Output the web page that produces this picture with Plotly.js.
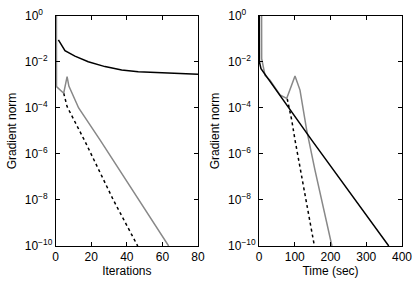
<!DOCTYPE html>
<html>
<head>
<meta charset="utf-8">
<script src="https://cdn.plot.ly/plotly-3.0.1.min.js"></script>
<style>html,body{margin:0;padding:0;background:#fff;}#chart{width:417px;height:281px;}</style>
</head>
<body>
<div id="chart"></div>
<script>
// Left panel: gradient norm vs iterations
const iterBlackX = [1.5, 5.2, 10.8, 18.3, 27.7, 37.1, 46.4, 55.8, 65.2, 80];
const iterBlackY = [0.091, 0.031, 0.018, 0.0102, 0.0063, 0.0045, 0.0038, 0.00355, 0.0033, 0.0029];
const iterGrayX = [0.4, 0.45, 4.5, 6.4, 7.4, 12.9, 24.9, 63.5];
const iterGrayY = [3, 8.5e-4, 4.4e-4, 2.3e-3, 9e-4, 1e-4, 4.1e-6, 1e-10];
const iterDashX = [4.5, 6.4, 16.5, 32.4, 46.1];
const iterDashY = [4.4e-4, 1.15e-4, 3.5e-6, 1e-8, 1e-10];

// Right panel: gradient norm vs time (sec)
const timeBlackX = [0.9, 1.2, 5.6, 12, 58.7, 147, 363];
const timeBlackY = [3, 0.01, 5.1e-3, 3.7e-3, 3.7e-4, 4.1e-6, 1e-10];
const timeGrayX = [7.2, 7.5, 16.8, 30.8, 58.7, 77.5, 100.7, 114.7, 133.4, 156.6, 204];
const timeGrayY = [3, 0.0138, 2.6e-3, 1.6e-3, 3.7e-4, 2.6e-4, 2.45e-3, 6e-4, 1.1e-5, 2e-7, 1e-10];
const timeDashX = [79, 91.5, 100.7, 114.7, 155];
const timeDashY = [2.5e-4, 3e-5, 4.1e-6, 2.8e-7, 1e-10];

// Tick labels (figure spaces keep the "10" bases aligned, as in the reference)
const yTickVals = [1, 1e-2, 1e-4, 1e-6, 1e-8, 1e-10];
const yTickText = ['10<sup>0\u2007\u2007</sup>', '10<sup>\u22122\u2007</sup>', '10<sup>\u22124\u2007</sup>', '10<sup>\u22126\u2007</sup>', '10<sup>\u22128\u2007</sup>', '10<sup>\u221210</sup>'];
const iterTickVals = [0, 20, 40, 60, 80];
const timeTickVals = [0, 100, 200, 300, 400];

const FONT = 'Liberation Sans, Arial, Helvetica, sans-serif';
const gray = '#888888';

function line(x, y, color, dash, xa, ya) {
  return {x: x, y: y, xaxis: xa, yaxis: ya, type: 'scatter', mode: 'lines',
    line: {color: color, width: 1.5, dash: dash}, hoverinfo: 'skip', showlegend: false};
}

const data = [
  line(iterDashX, iterDashY, '#000', '3px,3px', 'x', 'y'),
  line(iterGrayX, iterGrayY, gray, 'solid', 'x', 'y'),
  line(iterBlackX, iterBlackY, '#000', 'solid', 'x', 'y'),
  line(timeDashX, timeDashY, '#000', '3px,3px', 'x2', 'y2'),
  line(timeGrayX, timeGrayY, gray, 'solid', 'x2', 'y2'),
  line(timeBlackX, timeBlackY, '#000', 'solid', 'x2', 'y2')
];

function xax(domain, range, vals, title, anchor) {
  return {domain: domain, range: range, anchor: anchor, tickmode: 'array', tickvals: vals,
    ticks: 'inside', ticklen: 4, tickwidth: 1, tickcolor: '#000', mirror: 'ticks',
    showline: true, linecolor: '#000', linewidth: 1, showgrid: false, zeroline: false,
    tickfont: {family: FONT, size: 12, color: '#000'},
    title: {text: title, font: {family: FONT, size: 12, color: '#000'}, standoff: 3}};
}
function yax(anchor) {
  return {domain: [0.1246, 0.9431], type: 'log', range: [-10, 0], anchor: anchor,
    tickmode: 'array', tickvals: yTickVals, ticktext: yTickText,
    ticks: 'inside', ticklen: 4, tickwidth: 1, tickcolor: '#000', mirror: 'ticks',
    showline: true, linecolor: '#000', linewidth: 1, showgrid: false, zeroline: false,
    tickfont: {family: FONT, size: 12, color: '#000'},
    title: {text: 'Gradient norm', font: {family: FONT, size: 12, color: '#000'}, standoff: 5.5}};
}

const layout = {
  width: 417, height: 281,
  margin: {l: 0, r: 0, t: 0, b: 0},
  paper_bgcolor: '#fff', plot_bgcolor: '#fff',
  font: {family: FONT, size: 12, color: '#000'},
  xaxis: xax([0.1336, 0.4748], [0, 80], iterTickVals, 'Iterations', 'y'),
  yaxis: yax('x'),
  xaxis2: xax([0.6211, 0.9640], [0, 400], timeTickVals, 'Time (sec)', 'y2'),
  yaxis2: yax('x2')
};

Plotly.newPlot('chart', data, layout, {staticPlot: true, displayModeBar: false});
</script>
</body>
</html>
